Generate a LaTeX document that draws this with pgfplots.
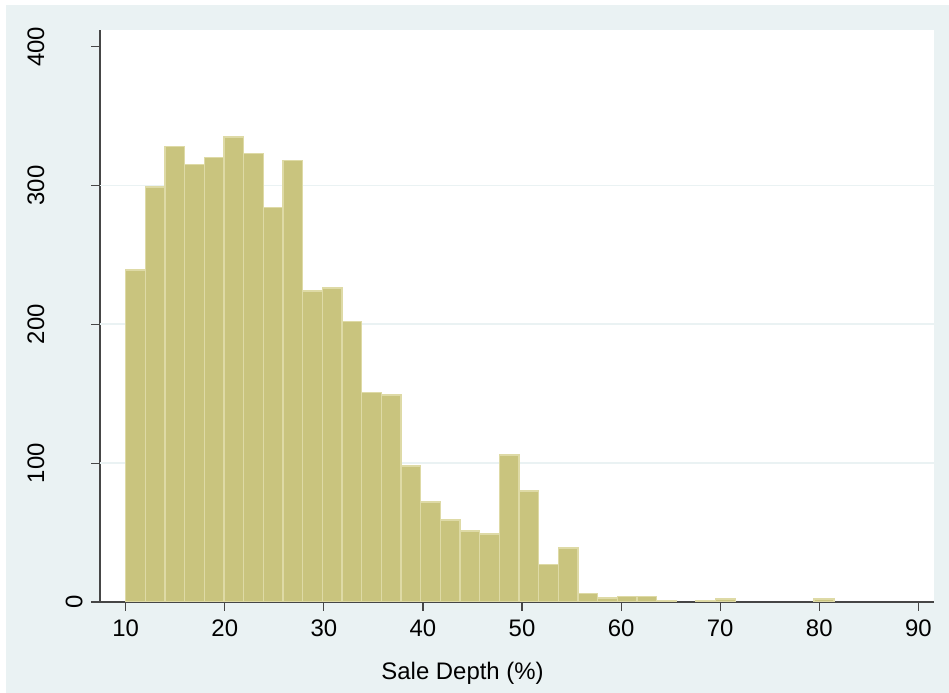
\documentclass[border=0pt]{standalone}
\usepackage{pgfplots}
\pgfplotsset{compat=1.18}
\usepackage{fontspec}
\setmainfont{Liberation Sans}
\definecolor{bgc}{RGB}{234,242,243}
\definecolor{barfill}{RGB}{201,196,126}
\definecolor{barline}{RGB}{222,218,166}
\definecolor{axc}{RGB}{70,70,70}
\begin{document}
\begin{tikzpicture}[x=1bp,y=1bp]
\path[use as bounding box] (0,0) rectangle (949,693);
\fill[bgc] (6,0) rectangle (949,688);
\begin{axis}[
  at={(100bp,91bp)}, anchor=south west,
  scale only axis, width=834bp, height=572bp,
  xmin=7.406, xmax=91.58, ymin=0, ymax=412,
  axis background/.style={fill=white},
  axis x line*=bottom, axis y line*=left,
  axis line style={axc, line width=1.2bp, -},
  xtick={10,20,...,90}, ytick={0,100,200,300,400},
  yticklabels={\raisebox{-38bp}[\height][0pt]{0},100,200,300,400},
  tick align=outside, tick style={axc, line width=1.2bp},
  major tick length=9bp,
  extra y ticks={100,200,300}, extra y tick labels={},
  extra y tick style={grid=major, major tick length=0pt},
  grid style={bgc, line width=1.8bp},
  /pgf/number format/assume math mode=true,
  ticklabel style={font=\fontsize{24}{28}\selectfont},
  xticklabel style={yshift=-5bp},
  yticklabel style={xshift=-43bp, rotate=90, anchor=south},
  xlabel={Sale Depth (\%)},
  xlabel style={font=\fontsize{24}{28}\selectfont, at={(axis description cs:0.4347,0)}, anchor=north, yshift=-57bp},
]
\addplot[ybar interval, fill=barfill, draw=barline, line width=1.5bp] coordinates {
(10,239) (11.985,299) (13.97,328) (15.955,315) (17.94,320) (19.925,335)
(21.91,323) (23.895,284) (25.88,318) (27.865,224) (29.85,226) (31.835,202)
(33.82,151) (35.805,149) (37.79,98) (39.775,72) (41.76,59) (43.745,51)
(45.73,49) (47.715,106) (49.7,80) (51.685,27) (53.67,39) (55.655,6)
(57.64,3) (59.625,4) (61.61,4) (63.595,1) (65.58,0)
};
\addplot[ybar interval, fill=barfill, draw=barline, line width=1.5bp] coordinates {
(67.565,1) (69.55,2) (71.535,0)
};
\addplot[ybar interval, fill=barfill, draw=barline, line width=1.5bp] coordinates {
(79.475,2) (81.46,0)
};
\end{axis}
\end{tikzpicture}
\end{document}
